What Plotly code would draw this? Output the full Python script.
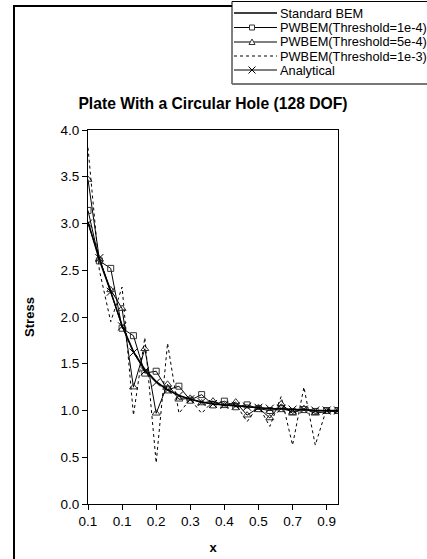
import plotly.graph_objects as go

# category positions along the plate edge (Excel-style category axis)
tick_labels = ["0.1", "0.1", "0.2", "0.3", "0.4", "0.5", "0.7", "0.9"]
n_points = 23
idx = list(range(n_points))

series_names = ["Standard BEM", "PWBEM(Threshold=1e-4)", "PWBEM(Threshold=5e-4)",
                "PWBEM(Threshold=1e-3)", "Analytical"]

standard_bem = [3.02, 2.61, 2.27, 1.91, 1.63, 1.44, 1.31, 1.22, 1.16, 1.12, 1.09, 1.07,
                1.06, 1.05, 1.04, 1.03, 1.02, 1.02, 1.01, 1.01, 1.00, 1.00, 1.00]
pwbem_1e4 = [3.14, 2.60, 2.52, 1.88, 1.80, 1.40, 1.42, 1.22, 1.26, 1.11, 1.17, 1.06,
             1.10, 1.04, 1.06, 1.02, 1.00, 1.02, 0.99, 1.01, 0.99, 1.00, 1.00]
pwbem_5e4 = [3.47, 2.62, 2.29, 2.09, 1.25, 1.66, 0.97, 1.28, 1.12, 1.13, 1.08, 1.10,
             1.05, 1.09, 0.95, 1.03, 0.92, 1.07, 0.97, 1.02, 0.97, 0.99, 0.99]
pwbem_1e3 = [3.81, 2.50, 1.95, 2.32, 0.95, 1.78, 0.44, 1.72, 0.97, 1.12, 0.97, 1.10,
             1.05, 1.07, 0.88, 1.05, 0.83, 1.15, 0.63, 1.25, 0.63, 1.02, 0.97]
analytical = [3.00, 2.63, 2.27, 1.90, 1.62, 1.42, 1.30, 1.22, 1.16, 1.12, 1.09, 1.07,
              1.06, 1.05, 1.04, 1.03, 1.02, 1.02, 1.01, 1.01, 1.00, 1.00, 1.00]

W, H = 427, 559
L, T = 88, 130
PW, PH = 250, 374
R, B = W - L - PW, H - T - PH


def px(sx):
    return (sx - L) / PW


def py(sy):
    return (T + PH - sy) / PH


fig = go.Figure()
fig.add_trace(go.Scatter(x=idx, y=standard_bem, mode="lines", name=series_names[0],
                         line=dict(color="black", width=1.5)))
fig.add_trace(go.Scatter(x=idx, y=pwbem_1e4, mode="lines+markers", name=series_names[1],
                         line=dict(color="black", width=1),
                         marker=dict(symbol="square-open", size=6, color="#333")))
fig.add_trace(go.Scatter(x=idx, y=pwbem_5e4, mode="lines+markers", name=series_names[2],
                         line=dict(color="black", width=1),
                         marker=dict(symbol="triangle-up-open", size=7, color="#333")))
fig.add_trace(go.Scatter(x=idx, y=pwbem_1e3, mode="lines", name=series_names[3],
                         line=dict(color="black", width=1, dash="dot")))
fig.add_trace(go.Scatter(x=idx, y=analytical, mode="lines+markers", name=series_names[4],
                         line=dict(color="black", width=1),
                         marker=dict(symbol="x-thin-open", size=8, color="black",
                                     line=dict(width=1, color="black"))))

shapes = []
# outer chart frame
shapes.append(dict(type="rect", xref="paper", yref="paper",
                   x0=px(14), x1=px(470), y0=py(620), y1=py(6),
                   line=dict(color="black", width=2), layer="below"))
# Excel-style legend box (drawn by hand to keep its tight row spacing)
shapes.append(dict(type="rect", xref="paper", yref="paper",
                   x0=px(232), x1=px(470), y0=py(84), y1=py(1.5),
                   line=dict(color="black", width=1), fillcolor="white"))
shapes.append(dict(type="line", xref="paper", yref="paper",
                   x0=px(232), x1=px(470), y0=py(84), y1=py(84),
                   line=dict(color="#777", width=2)))

annotations = []
row_y = [13, 27.5, 42, 56, 70]
dashes = ["solid", "solid", "solid", "dot", "solid"]
widths = [1.5, 1, 1, 1, 1]
for name, ry, dsh, lw in zip(series_names, row_y, dashes, widths):
    shapes.append(dict(type="line", xref="paper", yref="paper",
                       x0=px(234), x1=px(277), y0=py(ry), y1=py(ry),
                       line=dict(color="black", width=lw, dash=dsh)))
    annotations.append(dict(text=name, xref="paper", yref="paper", x=px(278), y=py(ry),
                            xanchor="left", yanchor="middle", showarrow=False,
                            font=dict(size=12.8)))
mx = 252
# square marker
shapes.append(dict(type="rect", xref="paper", yref="paper",
                   x0=px(mx - 2.5), x1=px(mx + 2.5), y0=py(27.5 + 2.5), y1=py(27.5 - 2.5),
                   line=dict(color="#333", width=1), fillcolor="white"))
# triangle marker
shapes.append(dict(type="path", xref="paper", yref="paper",
                   path=f"M {px(mx - 3)} {py(44.5)} L {px(mx + 3)} {py(44.5)} L {px(mx)} {py(39)} Z",
                   line=dict(color="#333", width=1), fillcolor="white"))
# x marker
shapes.append(dict(type="path", xref="paper", yref="paper",
                   path=(f"M {px(mx - 3.5)} {py(66.5)} L {px(mx + 3.5)} {py(73.5)} "
                         f"M {px(mx - 3.5)} {py(73.5)} L {px(mx + 3.5)} {py(66.5)}"),
                   line=dict(color="black", width=1)))

fig.update_layout(
    width=W, height=H,
    margin=dict(l=L, r=R, t=T, b=B, autoexpand=False),
    paper_bgcolor="white", plot_bgcolor="white",
    font=dict(family="Liberation Sans, Arial", size=13, color="black"),
    title=dict(text="<b>Plate With a Circular Hole (128 DOF)</b>", x=0.5, xanchor="center",
               xref="paper", y=1 - 104 / H, yanchor="middle", font=dict(size=15.7)),
    xaxis=dict(range=[0, n_points - 1], tickvals=idx[::3], ticktext=tick_labels,
               showgrid=False, zeroline=False, showline=True, linecolor="black",
               mirror=True, ticks="outside", ticklen=5, tickcolor="black",
               tickfont=dict(size=13.5),
               title=dict(text="<b>x</b>", standoff=14, font=dict(size=13))),
    yaxis=dict(range=[0, 4], dtick=0.5, tickformat=".1f",
               showgrid=False, zeroline=False, showline=True, linecolor="black",
               mirror=True, ticks="outside", ticklen=5, tickcolor="black",
               tickfont=dict(size=13.5),
               title=dict(text="<b>Stress</b>", standoff=22, font=dict(size=13))),
    shapes=shapes,
    annotations=annotations,
    showlegend=False,
)

# drop the default body margin so the figure sits at the page origin
fig.write_html("out.html", config={"displayModeBar": False},
               post_script="document.body.style.margin='0';document.body.style.overflow='hidden';")
